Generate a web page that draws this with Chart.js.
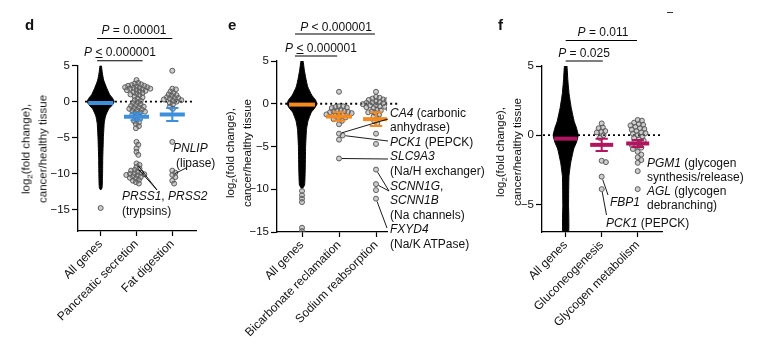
<!DOCTYPE html>
<html>
<head>
<meta charset="utf-8">
<script src="https://cdn.jsdelivr.net/npm/chart.js@4.4.0/dist/chart.umd.min.js"></script>
<style>
body { margin: 0; background: #fff; }
#wrap { position: relative; width: 757px; height: 355px; overflow: hidden; font-family: "Liberation Sans", Arial, sans-serif; color: #111; }
canvas { position: absolute; left: 0; top: 0; }
.t { position: absolute; font-size: 12px; line-height: 14.6px; white-space: nowrap; }
.i { font-style: italic; }
.u { text-decoration: underline; }
.pv { position: absolute; font-size: 12px; line-height: 14px; white-space: nowrap; transform: translateX(-50%); }
.ylab { position: absolute; font-size: 11.5px; line-height: 16.5px; text-align: center; white-space: nowrap; transform: translate(-50%, -50%) rotate(-90deg); }
.ylab sub { font-size: 8px; line-height: 0; }
.letter { position: absolute; font-weight: bold; font-size: 15px; line-height: 15px; }
</style>
</head>
<body>
<div id="wrap">
  <canvas id="cd" width="757" height="355"></canvas>
  <canvas id="ce" width="757" height="355"></canvas>
  <canvas id="cf" width="757" height="355"></canvas>

  <div class="letter" style="left:25px;top:17px">d</div>
  <div class="letter" style="left:228px;top:17px">e</div>
  <div class="letter" style="left:498px;top:17px">f</div>

  <div class="ylab" style="left:34px;top:149px">log<sub>2</sub>(fold change),<br>cancer/healthy tissue</div>
  <div class="ylab" style="left:238px;top:153px">log<sub>2</sub>(fold change),<br>cancer/healthy tissue</div>
  <div class="ylab" style="left:508px;top:152px">log<sub>2</sub>(fold change),<br>cancer/healthy tissue</div>

  <div class="pv" style="left:134px;top:23px"><span class="i">P</span> = 0.00001</div>
  <div class="pv" style="left:120px;top:45px"><span class="i">P</span> <span class="u">&lt;</span> 0.000001</div>
  <div class="pv" style="left:336px;top:20px"><span class="i">P</span> &lt; 0.000001</div>
  <div class="pv" style="left:321px;top:41px"><span class="i">P</span> <span class="u">&lt;</span> 0.000001</div>
  <div class="pv" style="left:603px;top:25px"><span class="i">P</span> = 0.011</div>
  <div class="pv" style="left:584px;top:46px"><span class="i">P</span> = 0.025</div>
  <div style="position:absolute;left:667px;top:12px;width:6px;height:1px;background:#333"></div>

  <div class="t" style="left:173px;top:141px"><span class="i">PNLIP</span></div>
  <div class="t" style="left:176px;top:156px">(lipase)</div>
  <div class="t" style="left:122px;top:189px"><span class="i">PRSS1</span>, <span class="i">PRSS2</span></div>
  <div class="t" style="left:122px;top:204px">(trypsins)</div>

  <div class="t" style="left:390px;top:105.7px">
    <span class="i">CA4</span> (carbonic<br>anhydrase)<br><span class="i">PCK1</span> (PEPCK)<br><span class="i">SLC9A3</span><br>(Na/H exchanger)<br><span class="i">SCNN1G</span>,<br><span class="i">SCNN1B</span><br>(Na channels)<br><span class="i">FXYD4</span><br>(Na/K ATPase)
  </div>

  <div class="t" style="left:647px;top:155.7px"><span class="i">PGM1</span> (glycogen<br>synthesis/release)</div>
  <div class="t" style="left:647px;top:183.7px"><span class="i">AGL</span> (glycogen<br>debranching)</div>
  <div class="t" style="left:610px;top:195px"><span class="i">FBP1</span></div>
  <div class="t" style="left:606px;top:216px"><span class="i">PCK1</span> (PEPCK)</div>
</div>

<script>
// ---- panel d ----
var dCategories = ['All genes', 'Pancreatic secretion', 'Fat digestion'];
var dYTicks = [5, 0, -5, -10, -15];
var dViolinY = [5.2, 5, 4, 3, 2, 1, 0.5, 0, -0.5, -1, -2, -3, -5, -8, -10, -12, -12.3];
var dViolinDensity = [0, 0.05, 0.12, 0.22, 0.42, 0.66, 0.87, 1, 0.85, 0.6, 0.36, 0.26, 0.2, 0.15, 0.14, 0.1, 0];
var dAllOutliers = [-14.8];
var dPancreatic = [3.0, 2.6, 2.5, 2.4, 2.3, 2.2, 2.2, 2.1, 2.0, 2.0, 1.9, 1.9, 1.8, 1.8, 1.7, 1.6, 1.6, 1.5, 1.4, 1.3,
  1.2, 1.1, 1.0, 0.9, 0.7, 0.6, 0.4, 0.2, 0.1, -0.1, -0.2, -0.4, -0.5, -0.6, -0.7, -0.8, -0.9, -1.0, -1.1, -1.2,
  -1.3, -1.4, -1.5, -1.6, -1.8, -1.9, -2.1, -2.3, -2.5, -2.7, -2.9, -3.1, -3.4, -3.7,
  -5.6, -6.0, -6.5, -7.0, -7.4,
  -8.6, -9.1, -8.8, -9.3, -9.5, -9.6, -9.8, -9.9, -10.0, -10.05, -10.1, -10.2, -10.3, -10.4, -10.5, -10.6, -10.7,
  -10.9, -11.0, -11.2, -11.4];
var dFat = [4.3, 1.8, 1.7, 1.4, 1.2, 1.0, 0.9, 0.8, 0.6, 0.5, 0.5, 0.4, 0.3, 0.2, 0.1, 0.0, -0.2, -0.4, -0.7, -1.0,
  -5.6, -9.6, -9.9, -10.2, -10.5, -11.0, -11.4];
var dMeans = [-0.2, -2.1, -1.8];
var dErrors = [0, 0.5, 0.9];

// ---- panel e ----
var eCategories = ['All genes', 'Bicarbonate reclamation', 'Sodium reabsorption'];
var eYTicks = [5, 0, -5, -10, -15];
var eViolinY = [5.1, 5, 4, 3, 2, 1, 0.5, 0, -0.5, -1, -2, -3, -5, -8, -9.5, -10];
var eViolinDensity = [0, 0.07, 0.15, 0.25, 0.38, 0.65, 0.88, 1, 0.85, 0.62, 0.4, 0.3, 0.24, 0.21, 0.17, 0];
var eAllOutliers = [-10.2, -10.7, -11.1, -11.5, -14.5, -14.9];
var eBicarbonate = [1.4, -0.3, -0.3, -0.4, -0.45, -0.5, -0.7, -0.8, -0.85, -0.9, -0.95, -1.0, -1.1, -1.2, -1.25,
  -1.3, -1.4, -1.6, -1.7, -1.8, -2.0, -2.4, -3.5, -3.7, -4.2, -6.4];
var eSodium = [1.4, 0.8, 0.7, 0.6, 0.5, 0.45, 0.4, 0.3, 0.2, 0.15, 0.1, 0.05, 0.0, -0.05, -0.1, -0.15, -0.2, -0.3,
  -0.35, -0.4, -0.5, -0.6, -0.7, -0.8, -0.9, -1.0, -1.1, -1.3, -1.5, -1.7, -2.0, -2.3, -3.5, -4.7,
  -7.7, -9.4, -10.1, -11.1];
var eMeans = [-0.1, -1.5, -1.8];
var eErrors = [0, 0.5, 0.8];

// ---- panel f ----
var fCategories = ['All genes', 'Gluconeogenesis', 'Glycogen metabolism'];
var fYTicks = [5, 0, -5];
var fViolinY = [5.1, 5, 4, 3, 2, 1, 0.5, 0, -0.5, -1, -2, -3, -5, -7];
var fViolinDensity = [0, 0.1, 0.17, 0.27, 0.44, 0.68, 0.87, 1, 0.87, 0.64, 0.4, 0.26, 0.23, 0.23];
var fAllOutliers = [];
var fGluconeogenesis = [0.85, 0.55, 0.5, 0.3, 0.25, 0.2, 0.0, -0.2, -1.85, -1.95, -3.0, -3.9];
var fGlycogen = [1.1, 1.05, 0.9, 0.8, 0.75, 0.7, 0.6, 0.5, 0.45, 0.4, 0.3, 0.2, 0.15, 0.1, 0.0, -0.1, -0.2, -0.3,
  -0.4, -0.5, -0.6, -0.7, -0.8, -0.9, -1.0, -1.2, -1.4, -1.6, -1.8, -2.0, -2.6, -3.9];
var fMeans = [-0.25, -0.7, -0.6];
var fErrors = [0, 0.45, 0.25];

var FONT = '"Liberation Sans", Arial, sans-serif';
var H = 355, YW = 40;

function panel(id, c) {
  var ds = [];
  // dotted zero line
  ds.push({ type: 'line', data: [{ x: c.zero[0], y: 0 }, { x: c.zero[1], y: 0 }], borderColor: '#000',
    borderWidth: 1.8, borderDash: [2, 3], pointRadius: 0, order: 5, clip: false });
  // violin of all genes
  var poly = [];
  c.violinY.forEach(function (y, i) { poly.push({ x: c.violinDensity[i] * c.violinHalf, y: y }); });
  for (var i = c.violinY.length - 1; i >= 0; i--) poly.push({ x: -c.violinDensity[i] * c.violinHalf, y: c.violinY[i] });
  ds.push({ type: 'line', data: poly, fill: 'shape', backgroundColor: '#000', borderColor: '#000', borderWidth: 1,
    pointRadius: 0, tension: 0.15, order: 4 });
  var dot = { pointRadius: 2.5, borderWidth: 1, borderColor: '#5c5c5c', backgroundColor: 'rgba(130,130,130,0.4)', order: 3 };
  ds.push(Object.assign({ type: 'scatter', data: c.outliers.map(function (y) { return { x: 0, y: y }; }) }, dot));
  c.groups.forEach(function (vals, g) {
    ds.push(Object.assign({ type: 'scatter', data: vals.map(function (y) { return { x: g + 1, y: y }; }) }, dot));
  });
  // means and error bars
  c.means.forEach(function (m, g) {
    ds.push({ type: 'line', data: [{ x: g - c.meanHalf, y: m }, { x: g + c.meanHalf, y: m }], borderColor: c.color,
      borderWidth: 4, pointRadius: 0, order: 1 });
    var e = c.errors[g];
    if (e) {
      ds.push({ type: 'line', borderColor: c.color, borderWidth: 2, pointRadius: 0, order: 1, spanGaps: false,
        data: [{ x: g - 0.17, y: m + e }, { x: g + 0.17, y: m + e }, { x: g, y: null },
               { x: g, y: m + e }, { x: g, y: m - e }, { x: g, y: null },
               { x: g - 0.17, y: m - e }, { x: g + 0.17, y: m - e }] });
    }
  });

  var annot = {
    id: 'annot' + id,
    afterDatasetsDraw: function (chart) {
      var ctx = chart.ctx, xs = chart.scales.x;
      ctx.save();
      ctx.strokeStyle = '#000';
      ctx.lineWidth = 1.1;
      c.brackets.forEach(function (b) {
        ctx.beginPath();
        ctx.moveTo(xs.getPixelForValue(b.from), b.y);
        ctx.lineTo(xs.getPixelForValue(b.to), b.y);
        ctx.stroke();
      });
      ctx.lineWidth = 0.9;
      c.leaders.forEach(function (l) {
        var di = 3 + l.group;
        var idx = chart.data.datasets[di].data.findIndex(function (p) { return p.y === l.value; });
        var el = chart.getDatasetMeta(di).data[idx];
        if (!el) return;
        var dx = l.to[0] - el.x, dy = l.to[1] - el.y, d = Math.sqrt(dx * dx + dy * dy) || 1;
        ctx.beginPath();
        ctx.moveTo(el.x + dx / d * 3, el.y + dy / d * 3);
        ctx.lineTo(l.to[0], l.to[1]);
        ctx.stroke();
      });
      ctx.restore();
    }
  };

  var chart = new Chart(document.getElementById(id), {
    type: 'scatter',
    data: { datasets: ds },
    plugins: [annot],
    options: {
      responsive: false,
      animation: false,
      events: [],
      layout: { padding: { left: c.area.left - YW, right: 757 - c.area.right, top: c.area.top, bottom: 0 } },
      plugins: { legend: { display: false }, tooltip: { enabled: false } },
      scales: {
        x: {
          type: 'linear', min: c.xMin, max: c.xMax,
          afterBuildTicks: function (s) { s.ticks = c.categories.map(function (_, i) { return { value: i }; }); },
          afterFit: function (s) { s.height = H - c.area.bottom; },
          ticks: { autoSkip: false, minRotation: 45, maxRotation: 45, padding: 1, color: '#111',
            font: { family: FONT, size: 12 }, callback: function (v) { return c.categories[v]; } },
          grid: { drawOnChartArea: false, drawTicks: true, tickLength: 5, color: '#000', tickWidth: 1.2 },
          border: { color: '#000', width: 1.3 }
        },
        y: {
          min: c.yMin, max: c.yMax,
          afterBuildTicks: function (s) { s.ticks = c.yTicks.map(function (v) { return { value: v }; }); },
          afterFit: function (s) { s.width = YW; },
          ticks: { padding: 2, color: '#111', font: { family: FONT, size: 11.5 },
            callback: function (v) { return String(v).replace('-', '\u2212'); } },
          grid: { drawOnChartArea: false, drawTicks: true, tickLength: 6, color: '#000', tickWidth: 1.2 },
          border: { color: '#000', width: 1.3 }
        }
      }
    }
  });

  // lay group points out as a beeswarm around each category
  var xs = chart.scales.x, ys = chart.scales.y;
  c.groups.forEach(function (vals, g) {
    var data = chart.data.datasets[3 + g].data;
    var cx = xs.getPixelForValue(g + 1);
    var placed = [];
    var order = data.map(function (_, i) { return i; }).sort(function (a, b) { return data[b].y - data[a].y; });
    order.forEach(function (i) {
      var py = ys.getPixelForValue(data[i].y);
      var off = 0;
      for (var k = 0; k < 200; k++) {
        var cand = (k % 2 ? 1 : -1) * Math.ceil(k / 2) * 0.6;
        var ok = placed.every(function (p) {
          var dx = p[0] - cand, dy = p[1] - py;
          return dx * dx + dy * dy >= c.minDist * c.minDist;
        });
        if (ok) { off = cand; break; }
      }
      placed.push([off, py]);
      data[i].x = xs.getValueForPixel(cx + off);
    });
  });
  chart.update('none');
  return chart;
}

panel('cd', {
  categories: dCategories, yTicks: dYTicks, yMin: -18, yMax: 5, xMin: -0.634, xMax: 2.662,
  area: { left: 78, right: 196, top: 65.7, bottom: 231 },
  violinY: dViolinY, violinDensity: dViolinDensity, violinHalf: 0.377,
  outliers: dAllOutliers, groups: [dPancreatic, dFat],
  means: dMeans, errors: dErrors, meanHalf: 0.35, color: '#3d8fdb',
  zero: [-0.44, 2.63], minDist: 3.3,
  brackets: [{ from: -0.1, to: 1.17, y: 60.7 }, { from: -0.1, to: 2.0, y: 38.5 }],
  leaders: [{ group: 0, value: -8.6, to: [157, 190] }, { group: 0, value: -9.1, to: [157, 190] },
            { group: 1, value: -10.2, to: [186, 168] }]
});

panel('ce', {
  categories: eCategories, yTicks: eYTicks, yMin: -15, yMax: 5, xMin: -0.676, xMax: 2.297,
  area: { left: 277, right: 387, top: 61, bottom: 232 },
  violinY: eViolinY, violinDensity: eViolinDensity, violinHalf: 0.405,
  outliers: eAllOutliers, groups: [eBicarbonate, eSodium],
  means: eMeans, errors: eErrors, meanHalf: 0.35, color: '#f58a1f',
  zero: [-0.59, 2.65], minDist: 3.7,
  brackets: [{ from: -0.19, to: 0.95, y: 56 }, { from: -0.19, to: 1.97, y: 34 }],
  leaders: [{ group: 0, value: -3.5, to: [388, 119] }, { group: 0, value: -3.7, to: [388, 141] },
            { group: 0, value: -6.4, to: [388, 159] }, { group: 1, value: -7.7, to: [389, 191] },
            { group: 1, value: -9.4, to: [389, 191] }, { group: 1, value: -11.1, to: [387, 228] }]
});

panel('cf', {
  categories: fCategories, yTicks: fYTicks, yMin: -7, yMax: 5, xMin: -0.658, xMax: 2.675,
  area: { left: 542, right: 662, top: 66, bottom: 232 },
  violinY: fViolinY, violinDensity: fViolinDensity, violinHalf: 0.347,
  outliers: fAllOutliers, groups: [fGluconeogenesis, fGlycogen],
  means: fMeans, errors: fErrors, meanHalf: 0.32, color: '#b2155f',
  zero: [-0.63, 2.62], minDist: 4.2,
  brackets: [{ from: 0, to: 1.03, y: 61 }, { from: 0, to: 1.98, y: 40.5 }],
  leaders: [{ group: 0, value: -3.0, to: [608, 195] }, { group: 0, value: -3.9, to: [606.5, 215] }]
});
</script>
</body>
</html>
